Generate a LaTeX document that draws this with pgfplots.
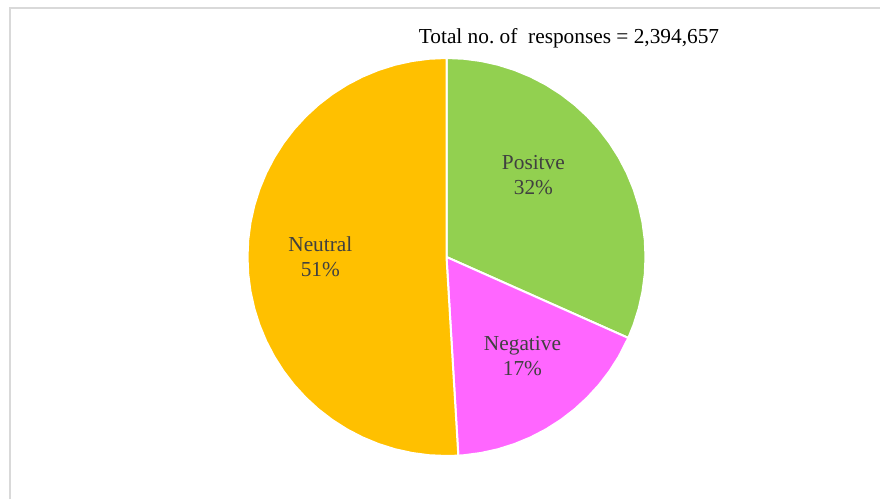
\documentclass[border=0pt]{standalone}
\usepackage{fontspec}
\setmainfont{Liberation Serif}
\usepackage{pgfplots}
\pgfplotsset{compat=1.18}
\usepgfplotslibrary{polar}

\definecolor{posgreen}{HTML}{92D050}
\definecolor{negpink}{HTML}{FF66FF}
\definecolor{neugold}{HTML}{FFC000}
\definecolor{lbl}{HTML}{404040}
\definecolor{frame}{HTML}{D9D9D9}

\begin{document}
\begin{tikzpicture}
    % canvas: 880 x 499 px, 1 px = 0.75 pt
    \useasboundingbox (0,0) rectangle (660pt,374.25pt);
    \draw[frame, line width=1.1pt] (7.5pt,0) -- (7.5pt,368.25pt) -- (660pt,368.25pt);

    \begin{polaraxis}[
        at={(334.875pt,181.5pt)}, anchor=center,
        scale only axis, width=298.5pt, height=298.5pt,
        hide axis, clip=false,
        xmin=0, xmax=360, ymin=0, ymax=1,
        every axis plot/.append style={draw=white, line width=1.5pt, line join=round},
        ]
        % Positve 32%
        \addplot[fill=posgreen] coordinates {
            (0,0) (90,1) (85,1) (80,1) (75,1) (70,1) (65,1) (60,1) (55,1) (50,1)
            (45,1) (40,1) (35,1) (30,1) (25,1) (20,1) (15,1) (10,1) (5,1) (0,1)
            (-5,1) (-10,1) (-15,1) (-20,1) (-24,1)
        } -- cycle;
        % Negative 17%
        \addplot[fill=negpink] coordinates {
            (0,0) (-24,1) (-30,1) (-35,1) (-40,1) (-45,1) (-50,1) (-55,1) (-60,1)
            (-65,1) (-70,1) (-75,1) (-80,1) (-85,1) (-86.6,1)
        } -- cycle;
        % Neutral 51%
        \addplot[fill=neugold] coordinates {
            (0,0) (273.4,1) (270,1) (265,1) (260,1) (255,1) (250,1) (245,1) (240,1)
            (235,1) (230,1) (225,1) (220,1) (215,1) (210,1) (205,1) (200,1) (195,1)
            (190,1) (185,1) (180,1) (175,1) (170,1) (165,1) (160,1) (155,1) (150,1)
            (145,1) (140,1) (135,1) (130,1) (125,1) (120,1) (115,1) (110,1) (105,1)
            (100,1) (95,1) (90,1)
        } -- cycle;

        \begin{scope}[every node/.style={align=center, text=lbl,
                font=\fontsize{16}{18.75}\selectfont}]
            \node at (axis cs:43.3,0.6) {Positve\\32\%};
            \node at (axis cs:-52.5,0.627) {Negative\\17\%};
            \node at (axis cs:179.8,0.634) {Neutral\\51\%};
        \end{scope}
    \end{polaraxis}

    \node[font=\fontsize{16}{19}\selectfont, text=black] at (426.75pt,345.75pt)
        {Total no.\ of\ \ responses = 2,394,657};
\end{tikzpicture}
\end{document}
